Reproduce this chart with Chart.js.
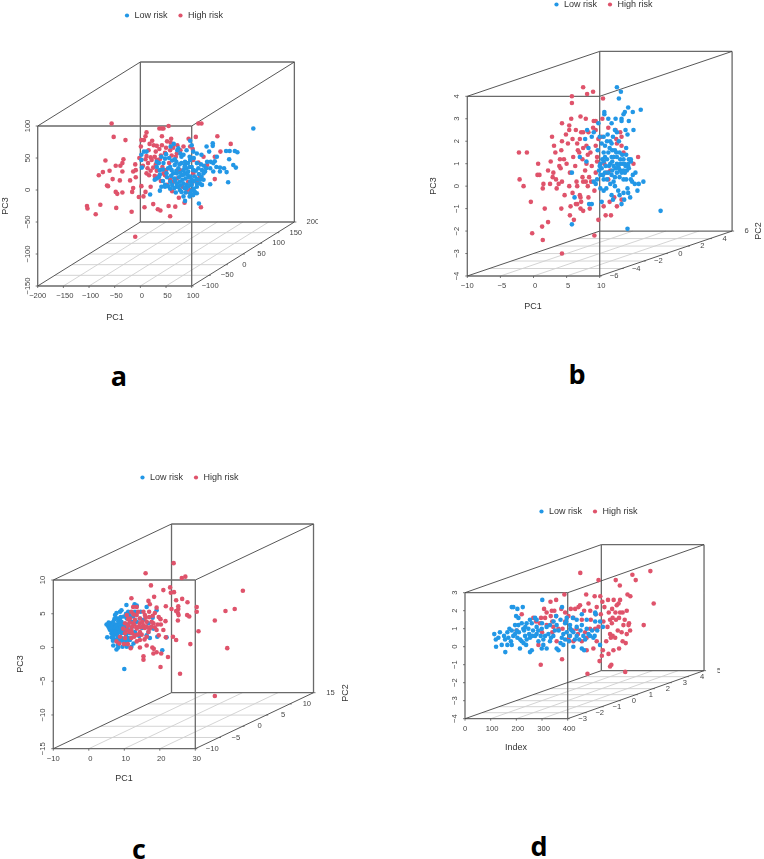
<!DOCTYPE html>
<html><head><meta charset="utf-8">
<style>
html,body{margin:0;padding:0;background:#fff;width:764px;height:859px;overflow:hidden;position:relative}
canvas{position:absolute;filter:blur(0.35px)}
.tag{position:absolute;font:bold 27px "Open Sans",sans-serif;color:#000;line-height:1;transform:translate(-50%,-50%)}
</style>
<script src="https://cdn.jsdelivr.net/npm/chart.js@4/dist/chart.umd.min.js"></script>
</head><body>
<canvas id="pa"></canvas><canvas id="pb"></canvas><canvas id="pc"></canvas><canvas id="pd"></canvas>
<div class="tag" style="left:119px;top:375px">a</div>
<div class="tag" style="left:577px;top:373px">b</div>
<div class="tag" style="left:139px;top:848px">c</div>
<div class="tag" style="left:539px;top:845px">d</div>
<script>
const seriesNames = ['Low risk','High risk'];
const lowColor = '#2297E6', highColor = '#DF536B';

// Panel a, values as read on the PC1 / PC3 front face
const aPC1Ticks=[-200,-150,-100,-50,0,50,100];
const aPC2Ticks=[-100,-50,0,50,100,150,200];
const aPC3Ticks=[-150,-100,-50,0,50,100];
const aHigh=[[-56,104],[-52,83],[-29,78],[-68,46],[-48,38],[-39,38],[-33,48],[-35,42],[-81,23],[-73,28],[-35,29],[-54,17],[-40,15],[-65,7],[-63,6],[-14,29],[-9,31],[-10,40],[-9,20],[-48,-3],[-45,-6],[-35,-4],[-14,3],[-16,-3],[2,6],[10,-3],[-3,-11],[6,-10],[-104,-25],[-103,-29],[-78,-23],[-87,-38],[-47,-28],[-17,-34],[8,-27],[25,-22],[34,-30],[39,-32],[55,-25],[68,-26],[58,-41],[-10,-73],[118,-27],[12,90],[10,84],[2,78],[7,78],[1,68],[23,77],[26,70],[32,69],[37,64],[42,84],[37,96],[42,96],[45,96],[55,100],[113,104],[119,104],[108,83],[150,84],[176,72],[94,80],[97,68],[102,64],[52,76],[59,74],[64,66],[58,62],[71,57],[61,54],[69,52],[12,53],[20,51],[28,52],[10,48],[22,47],[32,47],[38,48],[14,34],[25,35],[32,30],[12,26],[17,23],[43,36],[50,31],[48,23],[58,16],[65,13],[103,47],[113,43],[130,39],[145,52],[156,60],[116,21],[103,26],[110,13],[145,17],[119,18],[97,0],[90,-3],[82,5],[71,18],[77,31],[89,42],[123,52],[56,42],[45,26],[35,21],[93,13],[15,42],[30,40],[40,54],[48,58],[50,66],[60,80],[72,70],[78,62],[84,68],[16,62],[30,60],[42,70],[20,30],[28,22],[40,14],[52,8],[62,-2],[75,-12],[86,-20],[100,10],[-2,50],[5,38],[18,72],[-20,15],[-60,30],[20,5]];
const aLow=[[220,96],[2,55],[7,60],[2,47],[3,35],[12,60],[36,42],[32,44],[41,52],[48,49],[32,18],[28,16],[36,20],[19,-7],[38,-1],[41,5],[48,8],[54,6],[69,-4],[71,5],[77,0],[84,-10],[87,-17],[114,-21],[171,12],[136,9],[65,72],[59,68],[74,65],[78,57],[67,48],[84,55],[97,77],[100,70],[103,60],[110,57],[119,55],[129,68],[141,73],[141,69],[134,60],[149,52],[167,61],[174,61],[184,61],[189,59],[173,48],[145,45],[130,44],[137,44],[142,42],[142,29],[155,35],[155,29],[163,34],[168,28],[181,39],[186,35],[120,31],[123,26],[113,34],[100,36],[97,47],[87,44],[80,42],[87,39],[90,34],[84,31],[74,34],[67,39],[61,31],[54,34],[64,26],[71,26],[80,23],[87,26],[93,29],[98,21],[103,31],[106,21],[119,21],[123,16],[97,13],[100,8],[110,5],[116,10],[90,8],[84,10],[77,13],[71,10],[58,13],[48,5],[74,5],[80,-3],[90,3],[106,-3],[103,-8],[97,-5],[110,-5],[116,16],[45,42],[38,31],[32,36],[51,26],[93,42],[80,52],[110,42],[126,29],[44,14],[52,20],[60,22],[66,18],[62,8],[68,14],[75,20],[78,27],[84,24],[88,18],[94,20],[100,16],[104,14],[110,17],[114,25],[108,30],[96,36],[92,24],[86,36],[76,40],[70,44],[62,46],[56,50],[50,56],[72,62],[90,62],[96,52],[104,50],[118,40],[124,38],[128,34],[136,34],[148,36],[94,6],[86,3],[78,7],[66,3],[58,2],[100,-1],[96,-10],[88,-4],[82,16],[70,30],[58,36],[44,32],[38,24],[110,10],[104,2],[120,8]];

// Panel b
const bPC1Ticks=[-10,-5,0,5,10];
const bPC2Ticks=[-6,-4,-2,0,2,4,6];
const bPC3Ticks=[-4,-3,-2,-1,0,1,2,3,4];
const bHigh=[[7.5,4.4],[9,4.2],[8.1,4.1],[5.8,4],[5.8,3.7],[10.5,3.9],[-2.2,1.5],[-1,1.5],[.7,1],[.6,.5],[.9,.5],[-2.1,.3],[-1.5,0],[-.4,-.7],[1.7,-1],[1.3,-1.8],[2.2,-1.6],[-.2,-2.1],[1.4,-2.4],[4.3,-3],[9.2,-2.2],[9.8,-1.5],[6.1,-1.5],[11.7,-1.3],[2.8,2.2],[3.1,1.8],[3.3,1.5],[4.3,2.8],[4.9,2.3],[4.3,2],[5.7,3],[5.4,2.7],[5.4,2.5],[6.4,2.5],[7.1,3.1],[7.2,2.4],[7.5,2.4],[4.2,1.6],[4,1.2],[2.6,1.1],[2.2,.7],[3.9,.9],[4.1,.8],[3,.6],[2.9,.4],[1.5,.1],[1.4,-.1],[3.8,.1],[3.5,-.1],[4.3,.2],[4.7,-.4],[5.4,0],[6.5,.2],[6.6,0],[7.5,.2],[7.9,.2],[8.2,0],[7,-.4],[7.1,-.5],[6.4,-.8],[7.2,-.7],[6.6,-.8],[7.1,-1],[7.5,-1.1],[8.5,-1],[4.2,-1],[5.5,-1.3],[10.6,-.9],[10.9,-1.3],[12.6,-.9],[13.3,-.6],[11.5,-.7],[9.1,2.9],[9.4,2.9],[10.4,3],[9,2.6],[9.4,2.5],[10.3,2.2],[11.3,2.6],[12.4,2.5],[13.1,2.4],[13.3,2.2],[12.5,2.1],[12.6,1.9],[13.3,1.8],[6.6,1.9],[7,2.1],[6.7,1.6],[6.9,1.5],[7.5,1.7],[8,1.8],[9.4,1.8],[9.6,1.3],[8,1],[8.8,.9],[9.6,1.1],[7.8,.7],[9.4,.6],[8.4,.4],[11.1,.6],[11.6,.7],[15.8,1.3],[15.1,1],[12.1,1.3],[13.6,1.5],[6,1.3],[6.3,.9],[5.5,.6],[5,1],[7.4,1.2],[8.2,1.4],[8.6,1.5],[7.4,.4],[8.7,.2],[9.2,-.2],[5.2,1.9],[5.9,2.1],[8.3,2.4],[3.4,.3],[5.9,-.3],[5.6,-.9],[9.8,2.1],[10.7,1],[11.3,.3],[12.2,-.5],[8.3,-.5],[7.9,3],[4.6,1.2],[2.5,.1]];
const bLow=[[12.6,4.4],[13.2,4.2],[12.9,3.9],[14.3,3.5],[16.2,3.4],[15,3.3],[13.8,3.3],[13.6,3.2],[12.4,3],[13.3,3],[14.4,2.9],[10.7,3.3],[10.7,3.2],[11.3,3],[11.8,2.8],[9.8,2.8],[15.1,2.5],[13.9,2.5],[14.2,2.3],[12.3,2.5],[12.6,2.4],[8.1,2.5],[9.1,2.4],[8.8,2.2],[7.8,2.1],[8.3,1.7],[7,1.3],[8,1.1],[5.8,.6],[6.2,-.5],[8.4,-.8],[8.8,-.8],[5.8,-1.7],[19.2,-1.1],[14.2,-1.9],[10.3,-.7],[16.6,.2],[15.9,.1],[15.7,-.2],[15.3,.1],[14.7,.3],[14.9,.2],[15.4,.6],[14.1,.7],[14.4,.8],[13.7,1],[14,1.7],[14.7,1.2],[14.7,1.1],[11.1,2],[11.6,2],[11.8,1.9],[12.3,1.6],[10.8,1.8],[10.3,1.9],[10.6,1.5],[11.8,1.3],[12.6,1.3],[13.1,1.2],[13.6,1.2],[13.1,1],[12.6,1],[12.1,.9],[11.6,1],[11.1,1.2],[10.6,1.1],[10.3,.8],[10.8,.6],[10.1,.5],[10.6,.3],[11.1,.3],[11.8,.5],[12.6,.6],[13.3,.6],[13.8,.6],[12.1,.2],[11.6,.1],[12.3,0],[11.8,-.4],[12.8,-.2],[13.6,-.3],[14.3,-.3],[14.6,-.5],[13.7,-.6],[13.3,-.8],[9.1,.2],[9.6,.3],[10.1,-.1],[13.1,.7],[13.6,.7],[14.3,.9],[12.8,.9],[12.1,1.3],[10.8,1.3],[11.3,1.5],[11.9,1.6],[12.5,1.5],[13,1.5],[13.4,1.4],[14,1.4],[14.4,1.2],[14.3,1],[13.9,.9],[13.4,1],[12.9,.8],[12.4,.8],[11.9,1.1],[11.4,.9],[10.9,.9],[10.4,1.2],[10.1,1],[9.9,.7],[10.5,.5],[11.3,.6],[11.9,.7],[12.3,.4],[13,.4],[13.6,.3],[14,.3],[11.5,1.7],[12,2.2],[11.2,2.3],[10.6,2.2],[10,2.2],[9.7,1.6],[10,.9],[11,-.1],[10.6,-.2],[12,-.6],[13,-.4],[14.2,-.1],[15,.5],[9.4,.1],[12.9,2],[13.3,2.9]];

// Panel c
const cPC1Ticks=[-10,0,10,20,30];
const cPC2Ticks=[-10,-5,0,5,10,15];
const cPC3Ticks=[-15,-10,-5,0,5,10];
const cHigh=[[23.9,12.5],[16,11],[26.2,10.3],[27.2,10.5],[17.5,9.2],[21,8.5],[22.9,8.9],[23.1,8.1],[24,8.2],[12,7.3],[18.4,7.5],[24.6,7],[26.3,7.2],[27.8,6.7],[43.4,8.4],[41.1,5.7],[38.5,5.4],[35.5,4],[39,-.1],[30.9,2.4],[28.6,.5],[30.4,6],[30.4,5.3],[27.7,4.8],[28.3,4.6],[25.2,6.1],[25.2,5.7],[25.1,5.1],[24.6,5.4],[23.3,5.7],[21.7,6.1],[25.3,4.8],[25.1,4],[23.7,1.6],[24.6,1.1],[21.7,1.5],[22.3,-1.4],[20.2,-2.9],[15.4,-1.3],[15.4,-1.8],[25.7,-3.9],[35.5,-7.2],[20.4,-.9],[18.2,-.9],[19.1,-.7],[17.9,0],[16.3,.3],[14.4,0],[11.8,-.1],[16.8,6.9],[19.1,5.9],[17.2,6.4],[13.5,6],[12.5,6],[13.9,5.3],[12,5.3],[10.7,4.8],[11.6,4.3],[10.2,3.6],[13,4.1],[14.4,4.3],[15.8,4.8],[17,5.3],[18.6,5.1],[20.2,4.2],[21.6,3.9],[20.3,3.4],[21,2.6],[19.1,2.6],[17.2,2.8],[15.4,3.3],[13.5,2.8],[12,2.6],[10.7,2.6],[9.7,2.8],[14.4,2.3],[13,1.8],[16.3,1.6],[16.8,2.3],[14.4,1.1],[10.2,1.4],[12,1.4],[13.5,.9],[8.8,1.6],[7.8,.9],[8.6,.6],[18.2,3.6],[16.3,3.8],[17.7,3.8],[14.4,3.6],[12.5,3.6],[13.5,4.8],[15.4,5.3],[10.2,2.1],[11,3.2],[11.5,3.7],[12.2,3.1],[12.8,3.4],[13.4,3],[14,3.1],[14.7,3],[15.1,3.8],[15.8,2.9],[16.2,3.1],[16.9,2.9],[17.6,3.1],[18.6,3],[19.4,3.4],[11.4,2.3],[12.2,2.1],[12.8,1.6],[13.8,1.9],[14.9,1.9],[15.7,1.2],[16,4.4],[17,4.5],[18,4.7],[12.6,4.9],[11.1,4.2],[19.7,4.5],[19.7,1.8],[18.3,-.2],[11,.5],[9.9,.5]];
const cLow=[[10,-3.2],[20.7,-.4],[19.3,1.6],[21.9,1.5],[10.6,6.3],[12.9,6.4],[13.5,6.2],[14.6,5.3],[16.3,6],[19.1,5.5],[18,4.4],[9.2,5.5],[7.8,5.1],[8.8,5.3],[7.7,4.3],[8.3,3.8],[9.2,3.8],[5,3.4],[5.5,3.1],[6,2.6],[6.4,3.3],[7.4,3.4],[8.3,3.1],[6.9,2.8],[7.8,2.6],[8.8,2.6],[7.4,2.1],[6.4,2.1],[5.2,1.5],[6.4,1.5],[7.4,1.1],[8.3,1.4],[6.9,.3],[7.8,-.3],[8.3,0],[9.5,.1],[10.7,.1],[9.2,2.1],[10.2,2.8],[11.1,3.4],[12,3.8],[13.5,3.8],[15.4,4.1],[16.8,3.6],[18.2,2.8],[16.8,2.3],[11.6,1.1],[11.1,1.4],[11.6,2.1],[16.3,1.8],[7.4,4.8],[6,3.6],[6.9,3.8],[8,1.8],[7.1,2.4],[5.8,2.8],[11.1,5.3],[13,5.3],[14.4,4.3],[8.8,4.3],[10.7,4.3],[10.2,2.3],[9.2,1.4],[12,.1],[17.2,1.4],[10.7,.9],[9.7,3.4],[8.3,2.3],[6.9,1.6],[5.6,3.7],[6.2,3],[6.8,3.2],[7.2,3],[7.6,3.1],[8,3.3],[8.6,3.5],[8.9,3.2],[6.5,2.4],[7,2.1],[7.5,2.3],[8.4,2.8],[9,2.9],[9.5,2.7],[10,3.1],[10.4,3.3],[9.7,2.2],[10.7,2.7],[8.2,4.3],[9,4.5],[9.9,4.6],[10.5,5],[11.5,4.8],[12.5,4.6],[6.8,1],[7.9,1.2],[8.7,.9],[9.6,1],[10.5,1.9],[11.2,2.5],[12,2.9],[13,2.3],[14,3],[15,2.9],[12.6,.6],[14.2,1.7],[8.2,.4],[7.2,4.2]];

// Panel d
const dIndexTicks=[0,100,200,300,400];
const dPC2Ticks=[-3,-2,-1,0,1,2,3,4,5];
const dPC3Ticks=[-4,-3,-2,-1,0,1,2,3];
const dHigh=[[449,4.1],[520,3.7],[587,3.7],[603,3.4],[652,4],[665,3.7],[722,4.2],[735,2.4],[696,1.2],[633,2.9],[644,2.8],[387,2.9],[472,2.9],[505,2.8],[527,2.8],[557,2.6],[579,2.6],[604,2.6],[333,2.5],[355,2.6],[308,2.1],[318,1.9],[338,2],[348,2],[334,1.7],[221,1.8],[296,1.6],[312,1.6],[355,1.7],[448,2.3],[442,2.2],[481,2.4],[429,2.1],[464,2],[513,2.2],[543,2.2],[573,2.1],[591,2.3],[598,2.4],[586,1.9],[604,1.9],[614,1.9],[630,2],[529,1.8],[509,1.8],[422,1.6],[403,1.7],[390,1.4],[292,1.3],[318,1.2],[344,1.1],[364,1],[201,.9],[266,1.6],[277,1.4],[435,1],[468,.8],[487,1],[507,1],[539,1.4],[565,1.5],[575,1.6],[588,1.5],[572,1.3],[617,1.2],[639,1.3],[637,1.2],[630,.7],[643,.9],[565,.7],[575,.6],[585,.5],[568,.5],[614,.3],[626,.2],[537,-.2],[559,-.4],[578,-.2],[533,-.5],[524,-.8],[570,-1],[565,-1.1],[477,-1.5],[624,-1.4],[295,-1],[378,-.7],[474,-.2],[286,.1],[357,.3],[422,.3],[403,.4],[474,.5],[513,.3],[440,.7],[455,1.5],[490,1.5],[520,1.1],[555,1.1],[600,1.6],[622,1.5],[560,1.9],[535,2.5],[488,2],[390,1.9],[412,2.1],[375,2.1],[340,1.4],[380,1],[340,.8],[300,.8],[420,.9],[455,.3],[550,.3],[595,.9],[610,.8],[600,-.1],[500,-.1]];
const dLow=[[301,2.6],[378,2.2],[182,2.2],[188,2.2],[204,2.1],[225,2.2],[199,1.7],[208,1.6],[273,1.6],[279,1.5],[355,1.7],[455,1.8],[420,1.6],[435,1.5],[474,1.5],[507,1.9],[509,1.8],[114,.7],[121,0],[136,.8],[143,.1],[157,-.3],[152,.6],[173,1],[182,.9],[169,.5],[188,.6],[179,.3],[204,.5],[221,.3],[214,-.1],[238,.1],[260,-.2],[253,-.3],[221,1.3],[240,1.3],[260,1.3],[208,1.2],[227,1],[247,1],[279,1.1],[299,1],[318,1.1],[331,1.2],[357,1.2],[390,1.3],[409,1.2],[435,1.1],[455,1.2],[474,1],[507,1.4],[526,1.4],[537,1.1],[487,.6],[500,.5],[526,.1],[455,-.1],[464,-.2],[422,0],[383,.1],[357,-.1],[364,-.2],[318,-.1],[299,-.1],[305,.1],[286,.3],[253,.5],[273,.6],[312,.6],[344,.6],[377,.5],[409,.6],[435,.6],[461,.6],[481,.7],[396,.8],[396,1.6],[394,1.4],[331,.3],[234,.6],[201,.9],[156,.4],[182,.1],[279,.7],[383,.7],[422,.8],[120,.4],[130,.5],[165,.8],[195,.7],[210,.8],[215,.4],[230,.9],[240,.4],[228,.2],[250,.7],[262,.6],[265,.9],[285,.9],[295,.6],[305,.4],[325,.7],[335,.5],[350,.9],[365,.9],[372,.2],[390,.4],[405,.3],[415,.9],[428,.4],[445,.4],[450,.9],[468,.4],[495,.9],[505,.6],[515,.9],[345,1.4],[372,1.5],[410,1],[300,1.3],[253,1.5],[235,1.1],[195,1.2],[165,.1]];

// Page layout of each panel (pixels), kept apart from the values above
const LEGEND_H = 29;
const panels = [
 {id:'pa',L:0,T:1,W:347,H:340,clip:29,face:[37.7,191.7,126,286],depth:[200,100],
  x:aPC1Ticks,z:aPC2Ticks,y:aPC3Ticks,low:aLow,high:aHigh,highOnTop:false,zOff:18.5,
  labels:[['PC1',115,318,0],['PC3',6,206,-90],['PC2',330,223,-90]]},
 {id:'pb',L:425,T:-10,W:356,H:330,clip:0,face:[467.3,599.7,96.3,276],depth:[20,2],
  x:bPC1Ticks,z:bPC2Ticks,y:bPC3Ticks,low:bLow,high:bHigh,highOnTop:false,zOff:14.5,
  labels:[['PC1',533,307,0],['PC3',434,186,-90],['PC2',759,231,-90]]},
 {id:'pc',L:10,T:463,W:358,H:340,clip:0,face:[53.3,195.3,580,748.7],depth:[33.3,8.3],
  x:cPC1Ticks,z:cPC2Ticks,y:cPC3Ticks,low:cLow,high:cHigh,highOnTop:true,zOff:17,
  labels:[['PC1',124,779,0],['PC3',21,664,-90],['PC2',346,693,-90]]},
 {id:'pd',L:452,T:497,W:272,H:270,clip:4,face:[465,567.7,592.7,718.7],depth:[531,2.67],
  x:dIndexTicks,z:dPC2Ticks,y:dPC3Ticks,low:dLow,high:dHigh,highOnTop:false,zOff:15,
  labels:[['Index',516,748,0]]}
];

const fmt = v => String(v).replace('-', '\u2212');
const pts = a => a.map(p => ({x:p[0], y:p[1]}));
const GAP = {x:NaN, y:NaN};

panels.forEach(p => {
  const [fl,fr,ft,fb] = p.face;
  const x0=p.x[0], x1=p.x[p.x.length-1], y0=p.y[0], y1=p.y[p.y.length-1], z0=p.z[0], z1=p.z[p.z.length-1];
  const ppx=(fr-fl)/(x1-x0), ppy=(fb-ft)/(y1-y0);
  const xmin=x0-(fl-p.L)/ppx, xmax=xmin+p.W/ppx;
  const ymax=y1+(ft-(p.T+LEGEND_H))/ppy, ymin=ymax-(p.H-LEGEND_H)/ppy;
  const proj=(a,z,c)=>{const t=(z-z0)/(z1-z0);return {x:a+t*p.depth[0], y:c+t*p.depth[1]};};
  const seg=(list)=>{const out=[];list.forEach(s=>{out.push(s[0],s[1],GAP);});return out;};

  const faces=seg([
    [proj(x0,z0,y0),proj(x1,z0,y0)],[proj(x1,z0,y0),proj(x1,z0,y1)],[proj(x1,z0,y1),proj(x0,z0,y1)],[proj(x0,z0,y1),proj(x0,z0,y0)],
    [proj(x0,z1,y0),proj(x1,z1,y0)],[proj(x1,z1,y0),proj(x1,z1,y1)],[proj(x1,z1,y1),proj(x0,z1,y1)],[proj(x0,z1,y1),proj(x0,z1,y0)]
  ]);
  const edges=seg([
    [proj(x0,z0,y0),proj(x0,z1,y0)],[proj(x1,z0,y0),proj(x1,z1,y0)],[proj(x0,z0,y1),proj(x0,z1,y1)],[proj(x1,z0,y1),proj(x1,z1,y1)]
  ]);
  const floor=seg([
    ...p.x.slice(1,-1).map(v=>[proj(v,z0,y0),proj(v,z1,y0)]),
    ...p.z.slice(1,-1).map(v=>[proj(x0,v,y0),proj(x1,v,y0)])
  ]);
  const line=(label,data,color,w,order)=>({label,data,showLine:true,spanGaps:false,borderColor:color,borderWidth:w,pointRadius:0,order});
  const dot=(label,data,color,order)=>({label,data:pts(data),backgroundColor:color,borderWidth:0,pointRadius:2.3,pointStyle:'circle',pointBackgroundColor:color,order});

  const axisText={
    id:'axisText'+p.id,
    afterDraw(ch){
      const c=ch.ctx,sx=ch.scales.x,sy=ch.scales.y;
      c.save();
      c.strokeStyle='#555';c.lineWidth=0.8;
      c.fillStyle='#444';c.font='7.6px "Liberation Sans",Arial,sans-serif';c.textAlign='center';c.textBaseline='middle';
      const bx=sy.getPixelForValue(y0),lx=sx.getPixelForValue(x0);
      p.x.forEach(v=>{const px=sx.getPixelForValue(v);
        c.beginPath();c.moveTo(px,bx);c.lineTo(px,bx+2);c.stroke();
        c.fillText(fmt(v),px+(v===x0?0:1.5),bx+10);});
      p.y.forEach(v=>{const py=sy.getPixelForValue(v);
        c.beginPath();c.moveTo(lx,py);c.lineTo(lx-2,py);c.stroke();
        c.save();c.translate(lx-10,py);c.rotate(-Math.PI/2);c.fillText(fmt(v),0,0);c.restore();});
      p.z.forEach(v=>{const q=proj(x1,v,y0),px=sx.getPixelForValue(q.x),py=sy.getPixelForValue(q.y);
        c.beginPath();c.moveTo(px,py);c.lineTo(px+2,py);c.stroke();
        c.fillText(fmt(v),px+p.zOff,py);});
      c.fillStyle='#333';c.font='9px "Liberation Sans",Arial,sans-serif';
      p.labels.forEach(l=>{c.save();c.translate(l[1]-p.L,l[2]-p.T);c.rotate(l[3]*Math.PI/180);c.fillText(l[0],0,0);c.restore();});
      c.restore();
    }
  };
  const legendHeight={id:'legendHeight'+p.id,beforeInit(ch){const f=ch.legend.fit;ch.legend.fit=function(){f.call(this);this.height=LEGEND_H;};}};

  const el=document.getElementById(p.id);
  el.width=p.W;el.height=p.H;
  el.style.width=p.W+'px';el.style.height=p.H+'px';
  el.style.left=p.L+'px';el.style.top=p.T+'px';
  if(p.clip) el.style.clipPath='inset(0 '+p.clip+'px 0 0)';
  new Chart(el,{
    type:'scatter',
    data:{datasets:[
      dot(seriesNames[0],p.low,lowColor,p.highOnTop?2:1),
      dot(seriesNames[1],p.high,highColor,p.highOnTop?1:2),
      line('edges',edges,'#444',0.9,3),
      line('faces',faces,'#6a6a6a',1.3,4),
      line('floor',floor,'#cfcfcf',0.9,5)
    ]},
    options:{
      responsive:false,animation:false,devicePixelRatio:1,
      layout:{padding:0,autoPadding:false},
      scales:{
        x:{type:'linear',display:false,min:xmin,max:xmax},
        y:{type:'linear',display:false,min:ymin,max:ymax}
      },
      plugins:{
        tooltip:{enabled:false},
        legend:{display:true,position:'top',align:'center',
          labels:{usePointStyle:true,boxWidth:6,boxHeight:3,padding:10,color:'#333',
            font:{family:'"Liberation Sans",Arial,sans-serif',size:9},
            filter:i=>seriesNames.includes(i.text),
            sort:(a,b)=>seriesNames.indexOf(a.text)-seriesNames.indexOf(b.text)}}
      }
    },
    plugins:[legendHeight,axisText]
  });
});
</script>
</body></html>
